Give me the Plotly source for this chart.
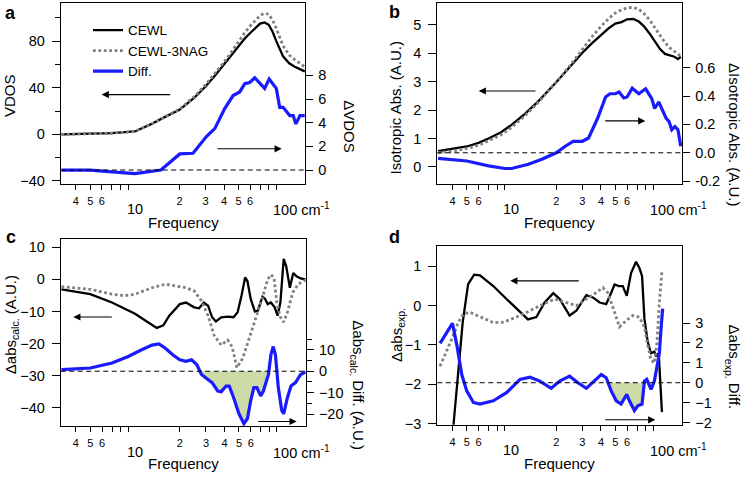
import numpy as np
import plotly.graph_objects as go

# ---------------- data ----------------
# panel a : VDOS
freq_a = [3.2, 5, 7, 10, 13, 16, 20, 25, 30, 35, 40, 45, 50, 55, 60, 65, 70, 75, 80, 85, 90, 100, 110, 120, 130, 140]
cewl_a = [0, 0.3, 1, 2.5, 9, 15, 21, 31, 41, 51, 60, 68, 76, 82, 87, 91, 95, 96, 94, 88, 80, 67, 61, 58, 56, 54]
nag_a = [0, 0.3, 1, 2.5, 9, 15, 21.5, 32, 42.5, 53, 62, 71, 80, 87, 93, 98, 102, 104, 103, 98, 91, 76, 68, 64, 61, 58]
freq_a_diff = [3.2, 5, 7, 10, 15, 20.1, 24.7, 30.4, 34.6, 40.4, 46, 51, 55.2, 59.6, 64.4, 75.1, 80.6, 90, 94.9, 100, 111, 117, 122, 130, 140]
diff_a = [0, 0, -0.15, -0.3, 0, 1.36, 1.42, 2.83, 3.5, 5.2, 6.3, 6.6, 7.3, 7.4, 7.8, 6.9, 7.7, 6.9, 5.3, 5.3, 4.6, 4.6, 3.9, 4.6, 4.6]

# panel b : isotropic absorption
freq_b = [3.2, 4, 5, 6, 7, 8.5, 10, 12, 15, 20, 25, 30, 35, 40, 45, 50, 55, 60, 66, 72, 78, 85, 92, 100, 108, 116, 125, 132, 138]
cewl_b = [0.56, 0.63, 0.72, 0.85, 1.0, 1.22, 1.48, 1.82, 2.29, 2.98, 3.55, 4.02, 4.37, 4.65, 4.88, 5.05, 5.1, 5.2, 5.21, 5.12, 4.95, 4.7, 4.43, 4.15, 3.98, 3.92, 3.88, 3.8, 3.88]
nag_b = [0.5, 0.56, 0.65, 0.77, 0.92, 1.13, 1.39, 1.75, 2.25, 2.98, 3.6, 4.14, 4.6, 4.95, 5.22, 5.42, 5.53, 5.6, 5.62, 5.55, 5.4, 5.18, 4.9, 4.62, 4.38, 4.2, 4.08, 3.98, 3.9]
freq_b_diff = [3.2, 5, 7, 9, 10, 13, 16, 20, 23, 26, 30, 33, 38, 43, 46, 50, 53, 57, 60, 65, 72, 80, 88, 92, 98, 105, 110, 115, 120, 126, 132, 138]
diff_b = [-0.04, -0.058, -0.092, -0.111, -0.111, -0.081, -0.046, 0, 0.046, 0.081, 0.081, 0.104, 0.243, 0.393, 0.416, 0.416, 0.428, 0.386, 0.393, 0.455, 0.416, 0.451, 0.382, 0.312, 0.358, 0.289, 0.243, 0.22, 0.162, 0.185, 0.162, 0.046]

# panel c : calculated delta absorption
freq_c = [3.2, 5, 7, 10, 12, 14, 15.5, 17, 20, 22, 25, 27, 29, 31, 33, 35, 38, 42, 46, 49, 52, 55, 57, 60, 64, 67, 72, 75, 78, 82, 87, 91, 95, 100, 104, 110, 116, 122, 130, 140]
cewl_c = [-3.07, -4.6, -7.2, -10.7, -13.1, -15.1, -14.3, -11.3, -7.7, -7.2, -8.7, -9, -7.2, -8.2, -11.8, -13.1, -11.8, -11.6, -11.8, -10.2, -5.1, 0.6, -0.5, -6.1, -10, -9.7, -5.4, -6.1, -7.7, -7.2, -8.7, -11.3, -7.2, 6.4, 4.1, -2.6, 2, 1, 0.3, 0]
freq_c_nag = [3.2, 5, 7, 8.5, 10, 13, 16, 19, 22, 25, 28, 31, 34, 38, 42, 45, 48.4, 53, 58, 65, 72, 78, 82, 86, 90, 95, 100, 106, 115, 125, 140]
nag_c = [-2.25, -3.1, -4.6, -5.1, -4.6, -2.6, -1.5, -2, -2.6, -3.6, -6.7, -11.3, -17.4, -20.5, -18.9, -21, -27.5, -24.6, -18.9, -12.3, -5.6, 0, 1.5, 0.5, -7.2, -11.8, -13.3, -10.2, -4.1, -1.5, -0.2]
freq_c_diff = [3.2, 5, 7, 9, 11, 13, 14.5, 16, 18, 20, 22, 24, 26, 28, 30, 33, 36, 38, 41, 43, 46, 50, 54, 57, 60, 63, 66, 70, 73, 76, 79, 82, 85, 88, 92, 97, 100, 106, 112, 120, 130, 140]
diff_c = [0.76, 1.5, 3.8, 6.9, 9.9, 12.2, 12.7, 10.7, 7.6, 5.3, 4.6, 5.3, 3.1, -1.5, -3.1, -5.3, -9.2, -9.5, -6.9, -6.9, -12.2, -19.8, -24.4, -22.1, -13.7, -7.6, -7.6, -11.5, -9.2, -4.6, -1.5, 7.6, 11.5, 7.6, -7.6, -18.3, -19.8, -12.2, -6.9, -5.3, -1.5, -0.3]

# panel d : experimental delta absorption
freq_d = [4.05, 4.69, 5.1, 5.6, 6.13, 7.53, 9.25, 11.4, 12.9, 14.7, 16.7, 19.1, 21.1, 24.6, 27.3, 31.9, 35.3, 39.2, 43.4, 46.9, 49.4, 52.8, 56.1, 59.7, 63.8, 69, 72.6, 75.7, 78.5, 82.6, 87, 91.6, 94, 98, 100, 103]
cewl_d = [-3.1, -0.42, 0.55, 0.79, 0.77, 0.5, 0.17, -0.17, -0.35, -0.29, 0.08, 0.32, 0.17, -0.25, -0.13, 0.27, 0.21, 0.08, 0.04, 0.33, 0.54, 0.5, 0.5, 0.25, 0.83, 1.12, 0.96, 0.75, -0.33, -0.92, -1.21, -1.17, -1.29, -1.21, -1.92, -2.71]
freq_d_nag = [3.3, 3.57, 4.06, 4.38, 4.74, 5.25, 6.13, 7.53, 8.8, 10.8, 13.3, 16.3, 19.6, 23.4, 27.3, 31.9, 37.2, 41.2, 44.5, 48.1, 53.3, 59.1, 65.6, 72.6, 78.5, 82.6, 87, 91.6, 95.1, 99, 103]
nag_d = [-1.54, -1.25, -0.75, -0.42, -0.21, -0.17, -0.29, -0.43, -0.42, -0.29, -0.13, 0.04, 0.17, 0.08, 0, 0.17, 0.33, 0.46, 0.33, -0.04, -0.54, -0.38, -0.25, -0.29, -0.54, -1, -1.38, -1.46, -1, 0.08, 0.87]
freq_d_diff = [3.3, 4.0, 4.28, 4.62, 4.99, 5.53, 6.13, 7.53, 9.25, 11.4, 13.3, 15.5, 18.5, 21.1, 24.6, 28, 31.9, 36.2, 40.2, 43.4, 46.9, 50.7, 54.7, 59.7, 62.2, 67.2, 70.8, 75.7, 78.5, 81.4, 87, 91.6, 95.1, 99, 101.6, 104.2]
diff_d = [1.98, 2.98, 1.9, 0.41, -0.41, -0.99, -1.07, -0.91, -0.5, 0.17, 0.28, 0.08, -0.28, 0.08, 0.33, 0, -0.28, 0.08, 0.41, 0.25, -0.41, -0.91, -1.07, -0.58, -0.91, -1.4, -1.16, -1.07, 0.08, 0.17, -0.33, 0.08, 0.74, 1.49, 2.73, 3.72]

# shaded (negative) frequency windows
shade_c = [26, 82]
shade_d = [43.4, 78.5]

# x tick labels
label_vals = [4, 5, 6, 20, 30, 40, 50, 60]
label_text = ['4', '5', '6', '2', '3', '4', '5', '6']
unlabeled_vals = [7, 8, 9, 70, 80, 90]
major_vals = [10, 100]

# ---------------- style ----------------
FONT = "Liberation Sans, Arial, sans-serif"
BLACK = "#000000"
GREY = "#808080"
BLUE = "#1a1aff"
FILLC = "rgba(196,214,150,0.85)"
W, H = 744, 481


def PX(x):
    return x / W


def PY(y):
    return 1 - y / H


XR = [0.50, 2.15]

fig = go.Figure()

panels = [
    dict(x='x', yl='y', yr='y2', f=freq_a, k=cewl_a, fn=freq_a, n=nag_a, fd=freq_a_diff, d=diff_a, shade=None, leg=True),
    dict(x='x2', yl='y3', yr='y4', f=freq_b, k=cewl_b, fn=freq_b, n=nag_b, fd=freq_b_diff, d=diff_b, shade=None, leg=False),
    dict(x='x3', yl='y5', yr='y6', f=freq_c, k=cewl_c, fn=freq_c_nag, n=nag_c, fd=freq_c_diff, d=diff_c, shade=shade_c, leg=False),
    dict(x='x4', yl='y7', yr='y8', f=freq_d, k=cewl_d, fn=freq_d_nag, n=nag_d, fd=freq_d_diff, d=diff_d, shade=shade_d, leg=False),
]

for p in panels:
    fig.add_trace(go.Scatter(x=p['f'], y=p['k'], xaxis=p['x'], yaxis=p['yl'], mode='lines',
                             line=dict(color=BLACK, width=2.3), name='CEWL', showlegend=p['leg']))
    fig.add_trace(go.Scatter(x=p['fn'], y=p['n'], xaxis=p['x'], yaxis=p['yl'], mode='lines',
                             line=dict(color=GREY, width=2.8, dash='2.8px,2.6px'), name='CEWL-3NAG', showlegend=p['leg']))
    if p['shade'] is not None:
        lo, hi = p['shade']
        sx = [f for f in p['fd'] if lo <= f <= hi]
        sy = [min(v, 0) for f, v in zip(p['fd'], p['d']) if lo <= f <= hi]
        fig.add_trace(go.Scatter(x=sx, y=sy, xaxis=p['x'], yaxis=p['yr'], mode='lines', fill='tozeroy',
                                 fillcolor=FILLC, line=dict(width=0), showlegend=False, hoverinfo='skip'))
    fig.add_trace(go.Scatter(x=p['fd'], y=p['d'], xaxis=p['x'], yaxis=p['yr'], mode='lines',
                             line=dict(color=BLUE, width=3.2), name='Diff.', showlegend=p['leg']))

# ---------------- axes ----------------
xdoms = [[60.7, 305.3], [437.3, 682.3], [60.7, 306.0], [437.3, 682.3]]
ydoms = [[2.7, 186.7], [2.7, 186.7], [242.7, 432.3], [250.0, 431.0]]

left_cfg = [
    dict(range=[-42.6, 113], tickvals=[-40, 0, 40, 80], minor=[-20, 20, 60, 100]),
    dict(range=[-0.60, 5.785], tickvals=[0, 1, 2, 3, 4, 5], minor=None),
    dict(range=[-45.7, 12.55], tickvals=[-40, -30, -20, -10, 0, 10], minor=None),
    dict(range=[-3.03, 1.51], tickvals=[-3, -2, -1, 0, 1], minor=None),
]
right_cfg = [
    dict(range=[-1.18, 14.15], tickvals=[0, 2, 4, 6, 8], ticktext=None, minor=None),
    dict(range=[-0.22, 1.058], tickvals=[-0.2, 0, 0.2, 0.4, 0.6], ticktext=['-0.2', '0.0', '0.2', '0.4', '0.6'], minor=None),
    dict(range=[-25.5, 61.5], tickvals=[-20, -10, 0, 10], ticktext=None, minor=[-15, -5, 5, 15]),
    dict(range=[-2.11, 6.85], tickvals=[-2, -1, 0, 1, 2, 3], ticktext=None, minor=None),
]

tickfont = dict(family=FONT, size=14.5, color=BLACK)
layout_axes = {}
for i in range(4):
    xn = 'xaxis' if i == 0 else 'xaxis%d' % (i + 1)
    yl_idx = 2 * i + 1
    yr_idx = 2 * i + 2
    yln = 'yaxis' if yl_idx == 1 else 'yaxis%d' % yl_idx
    yrn = 'yaxis%d' % yr_idx
    xref = 'x' if i == 0 else 'x%d' % (i + 1)
    ylref = 'y' if yl_idx == 1 else 'y%d' % yl_idx
    xd = [PX(v) for v in xdoms[i]]
    yd = [PY(ydoms[i][1]), PY(ydoms[i][0])]
    layout_axes[xn] = dict(type='log', range=XR, domain=xd, anchor=ylref, tickmode='array',
                           tickvals=label_vals, ticktext=label_text, ticks='outside', ticklen=5,
                           tickwidth=1, tickcolor=BLACK, showline=True, linecolor=BLACK, linewidth=1,
                           mirror=True, showgrid=False, zeroline=False,
                           minor=dict(tickmode='array', tickvals=unlabeled_vals, ticks='outside', ticklen=5,
                                      tickwidth=1, tickcolor=BLACK, showgrid=False),
                           tickfont=dict(family=FONT, size=11, color=BLACK), ticklabelstandoff=2)
    # overlay axis carrying only the long decade ticks
    layout_axes['xaxis%d' % (i + 5)] = dict(type='log', range=XR, overlaying=xref, anchor=ylref, side='bottom',
                                            tickmode='array', tickvals=major_vals, ticks='outside', ticklen=8,
                                            tickwidth=1, tickcolor=BLACK, showticklabels=False, showline=False,
                                            showgrid=False, zeroline=False)
    lc = left_cfg[i]
    yl = dict(domain=yd, anchor=xref, range=lc['range'], tickmode='array', tickvals=lc['tickvals'],
              ticks='outside', ticklen=8, tickwidth=1, tickcolor=BLACK, showline=True, linecolor=BLACK,
              linewidth=1, mirror=True, showgrid=False, zeroline=False, tickfont=tickfont,
              ticklabelstandoff=4)
    if lc['minor']:
        yl['minor'] = dict(tickmode='array', tickvals=lc['minor'], ticks='outside', ticklen=5,
                           tickcolor=BLACK, tickwidth=1, showgrid=False)
    layout_axes[yln] = yl
    rc = right_cfg[i]
    yr = dict(overlaying=ylref, side='right', anchor=xref, range=rc['range'], tickmode='array',
              tickvals=rc['tickvals'], ticks='outside', ticklen=7, tickwidth=1, tickcolor=BLACK,
              showline=True, linecolor=BLACK, linewidth=1, showgrid=False, zeroline=False,
              tickfont=tickfont, ticklabelstandoff=2)
    if rc['ticktext']:
        yr['ticktext'] = rc['ticktext']
    if rc['minor']:
        yr['minor'] = dict(tickmode='array', tickvals=rc['minor'], ticks='outside', ticklen=5,
                           tickcolor=BLACK, tickwidth=1, showgrid=False)
    layout_axes[yrn] = yr

# ---------------- zero reference lines ----------------
shapes = []
for xref, yref in [('x', 'y2'), ('x2', 'y4'), ('x3', 'y6'), ('x4', 'y8')]:
    shapes.append(dict(type='line', xref=xref + ' domain', yref=yref, x0=0, x1=1, y0=0, y1=0,
                       line=dict(color=BLACK, width=1, dash='5px,3.5px'), layer='above'))

# ---------------- annotations ----------------
ann = []


def text(t, x, y, size=15, angle=0, bold=False, xanchor='center'):
    ann.append(dict(text=('<b>%s</b>' % t) if bold else t, x=PX(x), y=PY(y), xref='paper', yref='paper',
                    showarrow=False, textangle=angle, xanchor=xanchor, yanchor='middle',
                    font=dict(family=FONT, size=size, color=BLACK)))


for t, x, y in [('a', 10, 13), ('b', 394, 12), ('c', 11, 240), ('d', 394, 240)]:
    text(t, x, y, size=18, bold=True)

text('VDOS', 9.5, 97, angle=-90)
text('ΔVDOS', 350, 128, angle=90)
text('Isotropic Abs. (A.U.)', 395, 110, angle=-90)
text('ΔIsotropic Abs. (A.U.)', 735, 136, angle=90)
text('Δabs<sub>calc.</sub> (A.U.)', 11, 330, angle=-90)
text('Δabs<sub>calc.</sub> Diff. (A.U.)', 358, 391, angle=90)
text('Δabs<sub>exp.</sub>', 397, 340, angle=-90)
text('Δabs<sub>exp.</sub> Diff.', 733, 372, angle=90)

for x, y in [(183, 226), (559, 226), (183, 470), (559, 470)]:
    text('Frequency', x, y)
for x, y in [(135, 212.5), (511, 212.5), (135, 458.5), (511, 456.5)]:
    text('10', x, y, size=14.5)
for x, y in [(270.5, 212.5), (648, 212.5), (270.5, 458.5), (648, 456.5)]:
    text('100 cm<sup>-1</sup>', x, y, size=14.5, xanchor='left')

arrows = [(101.7, 96, 70), (281.7, 151, -65.7), (478.7, 92.3, 58.3), (645.3, 122.7, -41.6),
          (73.3, 321.7, 40), (296.7, 427.7, -40), (510.3, 285, 70), (655.3, 426, -51.6)]
for hx, hy, dx in arrows:
    ann.append(dict(x=PX(hx), y=PY(hy), xref='paper', yref='paper', ax=dx, ay=0, text='',
                    showarrow=True, arrowhead=2, arrowsize=1.3, arrowwidth=1.1, arrowcolor=BLACK))

fig.update_layout(
    width=W, height=H, margin=dict(l=0, r=0, t=0, b=0),
    paper_bgcolor='white', plot_bgcolor='rgba(0,0,0,0)',
    font=dict(family=FONT, size=14, color=BLACK),
    showlegend=True,
    legend=dict(x=PX(88), y=PY(15), xanchor='left', yanchor='top', bgcolor='rgba(0,0,0,0)',
                font=dict(family=FONT, size=13.5, color=BLACK), itemwidth=30, tracegroupgap=0),
    shapes=shapes, annotations=ann,
    **layout_axes
)

fig.write_html("out.html", config={'displayModeBar': False},
               post_script="document.body.style.margin='0px';")
